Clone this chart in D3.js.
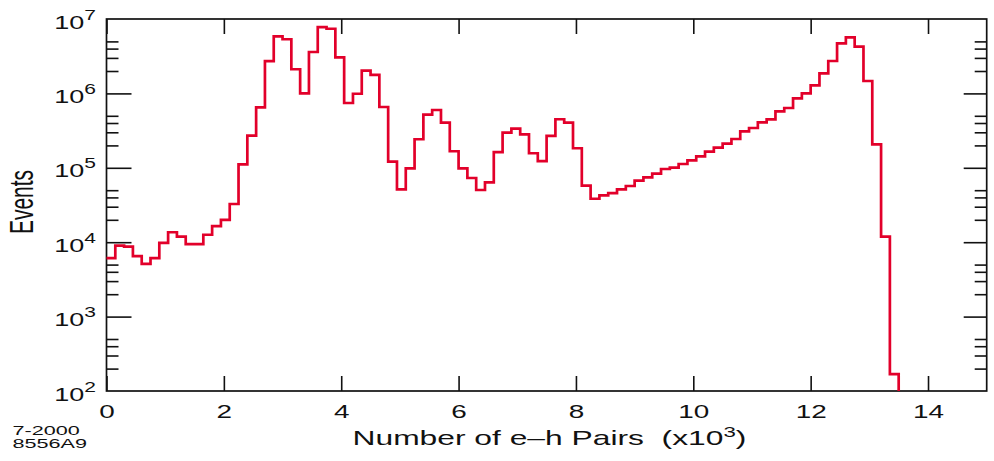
<!DOCTYPE html>
<html>
<head>
<meta charset="utf-8">
<script src="https://cdn.jsdelivr.net/npm/d3@7/dist/d3.min.js"></script>
<style>
  html, body { margin: 0; padding: 0; background: #fff; }
  svg { display: block; }
  text { font-family: "Liberation Sans", Arial, Helvetica, sans-serif; fill: #111; }
</style>
</head>
<body>
<svg id="chart" width="994" height="461"></svg>
<script>
// Histogram of e-h pair counts (bins of 0.15 x10^3 starting at 0)
const binStart = 0;
const binWidth = 0.15;
const events = [
  6100, 9000, 8700, 6500, 5100, 6100, 9800, 13600, 11900, 9400,
  9400, 12600, 16400, 19900, 32600, 111000, 270000, 650000, 2720000, 5850000,
  5340000, 2110000, 1000000, 3600000, 7800000, 7400000, 3050000, 743000, 990000, 2020000,
  1770000, 656000, 121000, 51400, 98400, 242000, 518000, 598000, 404000, 167000,
  98400, 72900, 50300, 63800, 162000, 297000, 336000, 282000, 157000, 123000,
  268000, 449000, 404000, 183000, 57500, 38400, 42700, 45800, 51400, 56900,
  67100, 74500, 83300, 96400, 100300, 112500, 126200, 142800, 164600, 186300,
  210900, 243900, 309600, 342700, 409000, 448600, 574400, 636800, 859000, 1003000,
  1285000, 1862000, 2725000, 4713000, 5675000, 4245000, 1468000, 207000, 11860, 169
];

// Axis ticks
const xTicks = [0, 2, 4, 6, 8, 10, 12, 14];
const yDecades = [2, 3, 4, 5, 6, 7];
const yMinorMultipliers = [2, 3, 4, 5];

// Text labels
const xTitle = "Number of e\u2013h Pairs  (x10";
const xTitleExp = "3";
const yTitle = "Events";
const stampLines = ["7-2000", "8556A9"];

const SX = 1.55; // horizontal stretch applied to all lettering
const red = "#e2002a";

const svg = d3.select("#chart");
const plot = { left: 106.5, right: 986.7, top: 19, bottom: 391 };

const x = d3.scaleLinear().domain([0, 15]).range([plot.left, plot.right]);
const y = d3.scaleLog().domain([1e2, 1e7]).range([plot.bottom, plot.top]);

const majorY = yDecades.map(p => Math.pow(10, p));
const minorY = [];
yDecades.slice(0, -1).forEach(p => yMinorMultipliers.forEach(m => minorY.push(m * Math.pow(10, p))));

function styleAxis(g) {
  g.select(".domain").remove();
  g.selectAll(".tick line").attr("stroke", "#111").attr("stroke-width", 1.6);
}

// bottom axis with labels
const gx = svg.append("g")
  .attr("transform", `translate(0,${plot.bottom})`)
  .call(d3.axisBottom(x).tickValues(xTicks).tickSize(-15).tickSizeOuter(0).tickPadding(14).tickFormat(d3.format("d")))
  .call(styleAxis);
gx.selectAll(".tick text")
  .attr("font-size", 18)
  .attr("font-family", "Liberation Sans, Arial, sans-serif")
  .attr("fill", "#111")
  .attr("y", 27).attr("dy", 0)
  .attr("transform", `scale(${SX},1)`);

// top axis ticks
svg.append("g")
  .attr("transform", `translate(0,${plot.top})`)
  .call(d3.axisTop(x).tickValues(xTicks).tickSize(-15).tickSizeOuter(0).tickFormat(""))
  .call(styleAxis);

// left axis major + minor ticks
svg.append("g")
  .attr("transform", `translate(${plot.left},0)`)
  .call(d3.axisLeft(y).tickValues(majorY.filter(v => v > 1e2 && v < 1e7)).tickSize(-25).tickSizeOuter(0).tickFormat(""))
  .call(styleAxis);
svg.append("g")
  .attr("transform", `translate(${plot.left},0)`)
  .call(d3.axisLeft(y).tickValues(minorY).tickSize(-12).tickSizeOuter(0).tickFormat(""))
  .call(styleAxis);

// right axis major + minor ticks
svg.append("g")
  .attr("transform", `translate(${plot.right},0)`)
  .call(d3.axisRight(y).tickValues(majorY.filter(v => v > 1e2 && v < 1e7)).tickSize(-23).tickSizeOuter(0).tickFormat(""))
  .call(styleAxis);
svg.append("g")
  .attr("transform", `translate(${plot.right},0)`)
  .call(d3.axisRight(y).tickValues(minorY).tickSize(-12).tickSizeOuter(0).tickFormat(""))
  .call(styleAxis);

// y tick labels as powers of ten
yDecades.forEach(p => {
  const t = svg.append("g")
    .attr("transform", `translate(96,${y(Math.pow(10, p)) + 9.5}) scale(${SX - 0.05},1)`)
    .append("text")
    .attr("text-anchor", "end")
    .attr("font-size", 18);
  t.append("tspan").text("10");
  t.append("tspan").attr("dy", -9).attr("font-size", 14).text(p);
});

// frame
svg.append("rect")
  .attr("x", plot.left).attr("y", plot.top)
  .attr("width", plot.right - plot.left).attr("height", plot.bottom - plot.top)
  .attr("fill", "none").attr("stroke", "#111").attr("stroke-width", 1.7);

// histogram outline
const pts = events.map((v, i) => [binStart + i * binWidth, v]);
const lastEdge = binStart + events.length * binWidth;
pts.push([lastEdge, events[events.length - 1]]);
pts.push([lastEdge, y.domain()[0]]);

const line = d3.line()
  .x(d => x(d[0]))
  .y(d => y(Math.max(d[1], y.domain()[0])))
  .curve(d3.curveStepAfter);

svg.append("path")
  .datum(pts)
  .attr("d", line)
  .attr("fill", "none")
  .attr("stroke", red)
  .attr("stroke-width", 2.7)
  .attr("stroke-linejoin", "miter");

// x axis title
const xt = svg.append("g")
  .attr("transform", `translate(352.5,445) scale(1.59,1)`)
  .append("text")
  .attr("font-size", 20)
  .style("white-space", "pre");
xt.append("tspan").text(xTitle);
xt.append("tspan").attr("dy", -8).attr("font-size", 14).text(xTitleExp);
xt.append("tspan").attr("dy", 8).text(")");

// y axis title
svg.append("g")
  .attr("transform", `translate(33,202) scale(${SX},1) rotate(-90)`)
  .append("text")
  .attr("text-anchor", "middle")
  .attr("font-size", 21)
  .text(yTitle);

// figure stamp
stampLines.forEach((s, i) => {
  svg.append("g")
    .attr("transform", `translate(12.5,${434.5 + i * 13.6}) scale(1.8,1)`)
    .append("text")
    .attr("font-size", 12)
    .text(s);
});
</script>
</body>
</html>
